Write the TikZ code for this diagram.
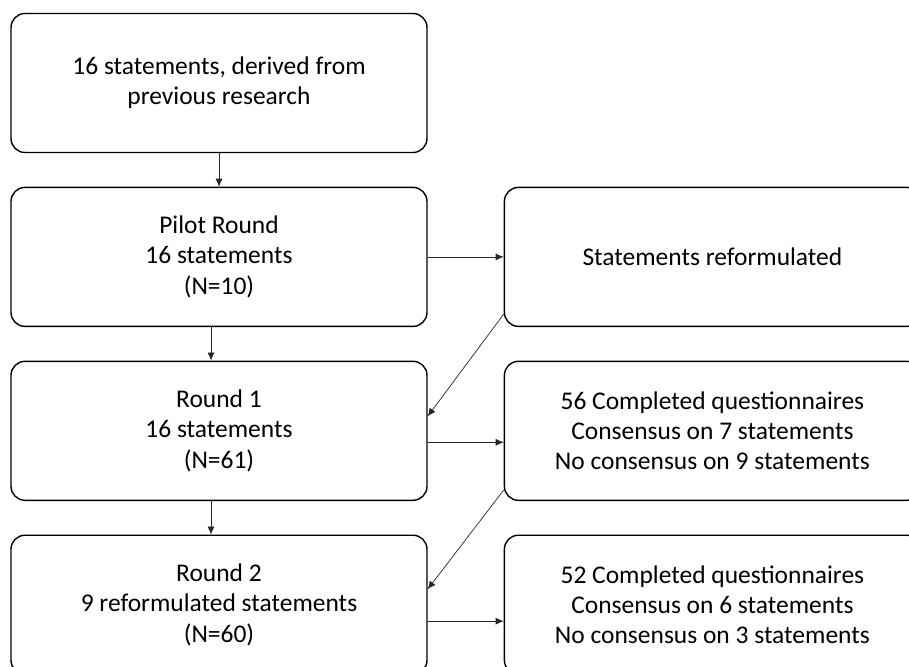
\documentclass[tikz,border=0pt]{standalone}
\usepackage{fontspec}
\setmainfont{Carlito}
\usepackage{tikz}
\usetikzlibrary{arrows.meta, positioning, calc}

\begin{document}
\begin{tikzpicture}[
    node distance=0.67cm and 1.52cm,
    box/.style={draw, rectangle, rounded corners=0.28cm, line width=0.8pt,
        minimum width=8.32cm, minimum height=2.78cm, align=center,
        font=\fontsize{14.5pt}{17.2pt}\selectfont},
    conn/.style={-{Latex[length=1.6mm,width=1.4mm]}, line width=0.4pt, black!85}
]
\clip (0,0) rectangle (18.18,-13.34);
% Delphi rounds
\node[box] (src) at (4.38,-1.66) {16 statements, derived from\\previous research};
\node[box, below=of src] (pilot) {Pilot Round\\16 statements\\(N=10)};
\node[box, below=of pilot] (r1) {Round 1\\16 statements\\(N=61)};
\node[box, below=of r1] (r2) {Round 2\\9 reformulated statements\\(N=60)};

% Outcomes
\node[box, right=of pilot] (reform) {Statements reformulated};
\node[box, right=of r1] (res1) {56 Completed questionnaires\\Consensus on 7 statements\\No consensus on 9 statements};
\node[box, right=of r2] (res2) {52 Completed questionnaires\\Consensus on 6 statements\\No consensus on 3 statements};

% Arrows
\draw[conn] (src) -- (pilot);
\draw[conn] ([xshift=-0.16cm]pilot.south) -- ([xshift=-0.16cm]r1.north);
\draw[conn] ([xshift=-0.16cm]r1.south) -- ([xshift=-0.16cm]r2.north);
\draw[conn] (pilot.east) -- (reform.west);
\draw[conn] ([yshift=-0.23cm]r1.east) -- ([yshift=-0.23cm]res1.west);
\draw[conn] ([yshift=-0.33cm]r2.east) -- ([yshift=-0.33cm]res2.west);

% Feedback into the next round
\draw[conn] ($(reform.south west)+(0,0.26)$) -- ([yshift=0.29cm]r1.east);
\draw[conn] ($(res1.south west)+(0,0.22)$) -- ([yshift=0.31cm]r2.east);
\end{tikzpicture}
\end{document}
